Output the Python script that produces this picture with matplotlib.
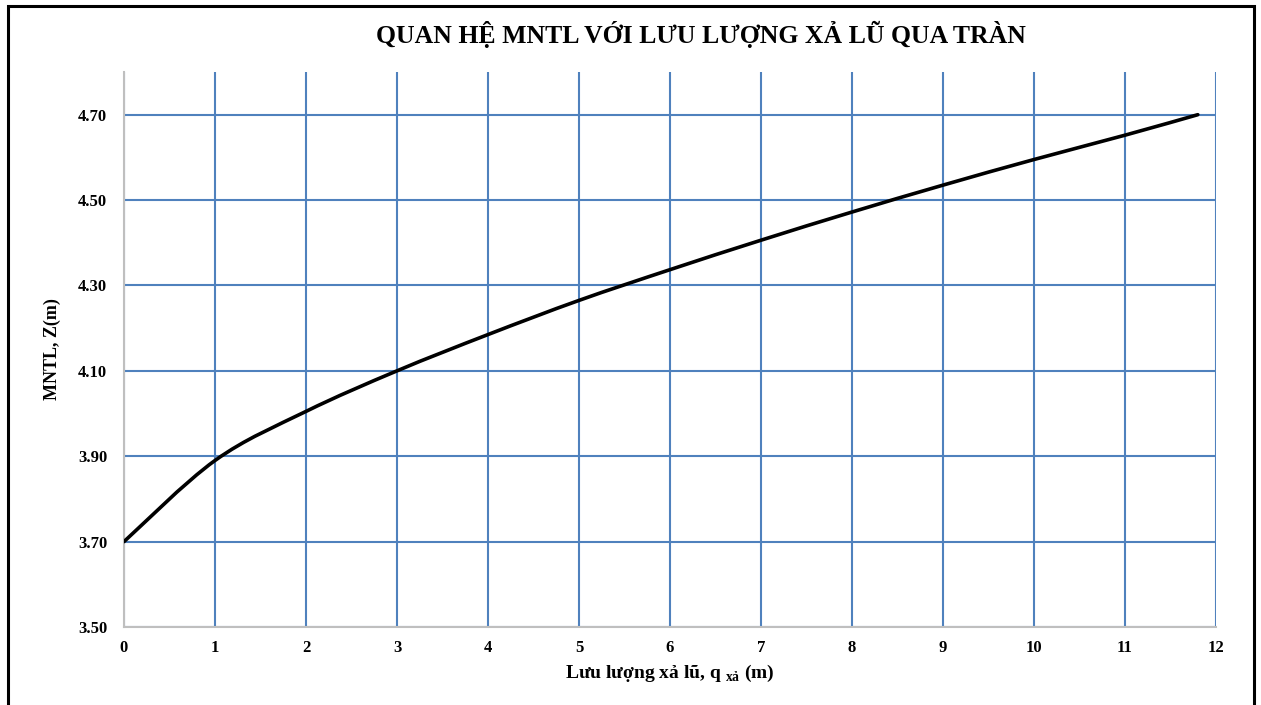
import numpy as np
import matplotlib
matplotlib.use('Agg')
import matplotlib.pyplot as plt
from matplotlib.path import Path
from matplotlib.patches import PathPatch, Rectangle

# data
q_xa = [0, 1, 2, 3, 4, 5, 6, 7, 8, 9, 10, 11, 11.8]
z_mntl = [3.700, 3.890, 4.005, 4.100, 4.185, 4.265, 4.337, 4.406,
          4.472, 4.535, 4.595, 4.652, 4.700]
x_ticks = list(range(0, 13))
y_ticks = [3.50, 3.70, 3.90, 4.10, 4.30, 4.50, 4.70]

plt.rcParams['font.family'] = ['Liberation Serif', 'DejaVu Serif']
plt.rcParams['font.weight'] = 'bold'
plt.rcParams['mathtext.fontset'] = 'custom'
plt.rcParams['mathtext.rm'] = 'Liberation Serif:bold'
plt.rcParams['mathtext.bf'] = 'Liberation Serif:bold'


def smooth_path(xs, ys):
    # excel-like smoothed line: cubic bezier through the points
    pts = np.column_stack([xs, ys]).astype(float)
    n = len(pts)
    verts = [pts[0]]
    codes = [Path.MOVETO]
    for i in range(n - 1):
        p0 = pts[i - 1] if i > 0 else pts[i]
        p1 = pts[i]
        p2 = pts[i + 1]
        p3 = pts[i + 2] if i + 2 < n else pts[i + 1]
        c1 = p1 + (p2 - p0) / 6.0
        c2 = p2 - (p3 - p1) / 6.0
        verts += [c1, c2, p2]
        codes += [Path.CURVE4] * 3
    return Path(verts, codes)


fig = plt.figure(figsize=(12.61, 7.05), dpi=100)
ax = fig.add_axes([124 / 1261, 78 / 705, 1092 / 1261, 555 / 705])

ax.set_xlim(0, 12)
ax.set_ylim(3.5, 4.8)
ax.set_xticks(x_ticks)
ax.set_yticks(y_ticks)
ax.set_yticklabels([f'{v:.2f}' for v in y_ticks])
ax.tick_params(length=0, labelsize=12)
ax.tick_params(axis='y', pad=12)
ax.tick_params(axis='x', pad=9)
for lab in ax.get_xticklabels() + ax.get_yticklabels():
    lab.set_fontweight('bold')

ax.grid(True, color='#4f81bd', linewidth=1.5)
ax.set_axisbelow(True)
for s in ['top', 'right']:
    ax.spines[s].set_visible(False)
for s in ['left', 'bottom']:
    ax.spines[s].set_color('#bfbfbf')
    ax.spines[s].set_linewidth(1.5)
    ax.spines[s].set_zorder(3)

patch = PathPatch(smooth_path(q_xa, z_mntl), facecolor='none',
                  edgecolor='black', linewidth=2.6, zorder=4,
                  capstyle='round')
ax.add_patch(patch)

ax.set_xlabel(r'Lưu lượng xả lũ, q $_{\mathrm{xả}}$ (m)', fontsize=14,
              fontweight='bold', labelpad=5)
ax.set_ylabel('MNTL, Z(m)', fontsize=13, fontweight='bold', va='center')
ax.yaxis.set_label_coords(-72 / 1092, 0.5)

fig.text(701 / 1261, 1 - 43 / 705, 'QUAN HỆ MNTL VỚI LƯU LƯỢNG XẢ LŨ QUA TRÀN',
         ha='center', va='baseline', fontsize=18.5, fontweight='bold')

# outer frame
fig.patches.append(Rectangle((8 / 1261, -0.05), 1246 / 1261, 1.05 - 6 / 705,
                             transform=fig.transFigure, fill=False,
                             edgecolor='black', linewidth=2.2))

fig.savefig('out.png', dpi=100)
